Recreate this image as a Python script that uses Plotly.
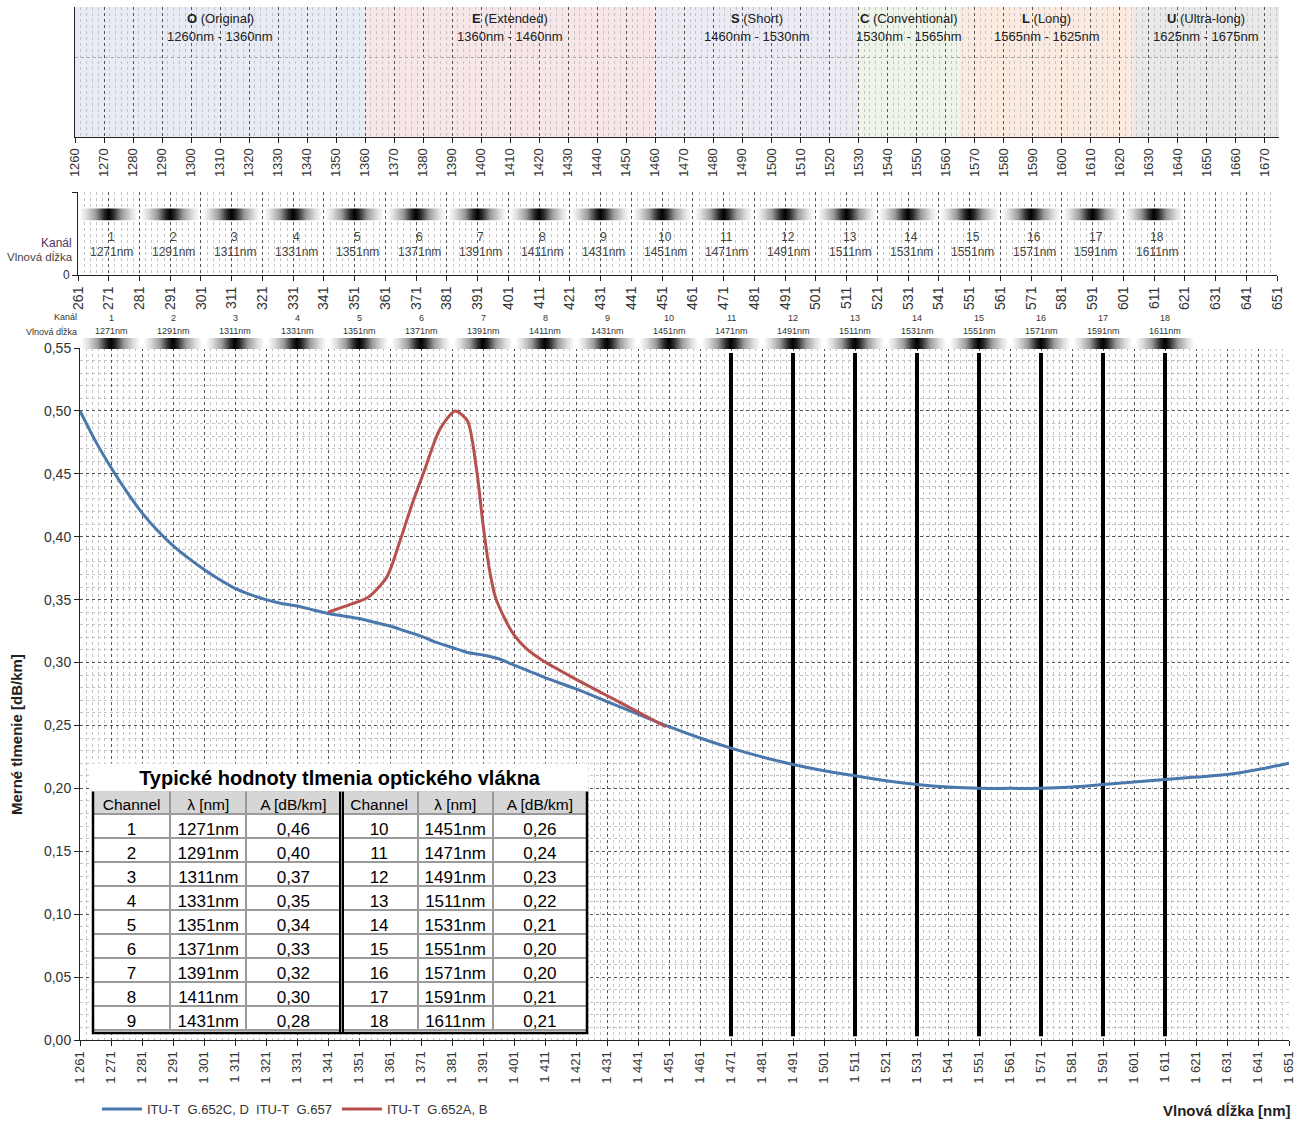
import plotly.graph_objects as go

W, H = 1295, 1121
FW, FH = W, H

# ---------------- data ----------------
band_letters = ["O", "E", "S", "C", "L", "U"]
band_names = ["Original", "Extended", "Short", "Conventional", "Long", "Ultra-long"]
band_start = [1260, 1360, 1460, 1530, 1565, 1625]
band_end = [1360, 1460, 1530, 1565, 1625, 1675]
band_colors = ["#e6ebf4", "#f6e6e7", "#ecebf4", "#eef4e8", "#fbeadf", "#e9e9e9"]

channel_no = [1, 2, 3, 4, 5, 6, 7, 8, 9, 10, 11, 12, 13, 14, 15, 16, 17, 18]
channel_wl = [1271, 1291, 1311, 1331, 1351, 1371, 1391, 1411, 1431,
              1451, 1471, 1491, 1511, 1531, 1551, 1571, 1591, 1611]
channel_att = [0.46, 0.40, 0.37, 0.35, 0.34, 0.33, 0.32, 0.30, 0.28,
               0.26, 0.24, 0.23, 0.22, 0.21, 0.20, 0.20, 0.21, 0.21]
marked_channels = [11, 12, 13, 14, 15, 16, 17, 18]

blue_wl = [1261, 1266, 1271, 1276, 1281, 1286, 1291, 1296, 1301, 1306, 1311, 1316, 1321, 1326,
           1331, 1336, 1341, 1346, 1351, 1356, 1361, 1366, 1371, 1376, 1381, 1386, 1391, 1396,
           1401, 1406, 1411, 1421, 1431, 1441, 1451, 1461, 1471, 1481, 1491, 1501, 1511, 1521,
           1531, 1541, 1551, 1561, 1571, 1581, 1591, 1601, 1611, 1621, 1631, 1641, 1651]
blue_att = [0.500, 0.476, 0.455, 0.436, 0.419, 0.405, 0.393, 0.383, 0.374, 0.366, 0.359, 0.354,
            0.350, 0.347, 0.345, 0.342, 0.339, 0.337, 0.335, 0.332, 0.329, 0.325, 0.321, 0.316,
            0.312, 0.308, 0.306, 0.303, 0.298, 0.293, 0.288, 0.279, 0.269, 0.259, 0.249, 0.240,
            0.232, 0.225, 0.219, 0.214, 0.210, 0.206, 0.203, 0.201, 0.200, 0.200, 0.200, 0.201,
            0.203, 0.205, 0.207, 0.209, 0.211, 0.215, 0.220]

red_wl = [1341, 1348, 1354, 1360, 1364, 1368, 1372, 1377, 1382, 1386, 1389, 1391,
          1393, 1395, 1398, 1401, 1405, 1410, 1420, 1430, 1440, 1450]
red_att = [0.340, 0.346, 0.352, 0.368, 0.395, 0.425, 0.452, 0.485, 0.500, 0.492, 0.452, 0.410,
           0.375, 0.352, 0.335, 0.322, 0.311, 0.302, 0.288, 0.275, 0.262, 0.249]

table_header = ["Channel", "λ [nm]", "A [dB/km]"]
series_names = ["ITU-T\u00a0 G.652C, D\u00a0 ITU-T\u00a0 G.657", "ITU-T\u00a0 G.652A, B"]
series_colors = ["#4a78ad", "#b5504f"]

# ---------------- helpers ----------------
def px_x(p):
    return p / FW

def px_y(p):
    return 1 - p / FH

FONT = "Arial, Liberation Sans, sans-serif"
blob_scale = [[0, "#ffffff"], [0.12, "#dcdcdc"], [0.28, "#9a9a9a"], [0.42, "#2a2a2a"], [0.5, "#000000"],
              [0.58, "#2a2a2a"], [0.72, "#9a9a9a"], [0.88, "#dcdcdc"], [1, "#ffffff"]]

fig = go.Figure()

def add_blobs(xa, ya, y0, y1):
    for wl in channel_wl:
        fig.add_trace(go.Scatter(
            x=[wl - 9.5, wl + 9.5, wl + 9.5, wl - 9.5, wl - 9.5],
            y=[y0, y0, y1, y1, y0], mode="lines", line=dict(width=0),
            fill="toself", fillgradient=dict(type="horizontal", colorscale=blob_scale),
            xaxis=xa, yaxis=ya, showlegend=False, hoverinfo="skip"))

add_blobs("x2", "y2", 0.66, 0.80)
add_blobs("x4", "y4", 0.0, 1.0)

# thick channel lines in main chart
lx, ly = [], []
for n, wl in zip(channel_no, channel_wl):
    if n in marked_channels:
        lx += [wl, wl, None]
        ly += [0.003, 0.546, None]
fig.add_trace(go.Scatter(x=lx, y=ly, mode="lines", line=dict(color="black", width=4),
                         xaxis="x3", yaxis="y3", showlegend=False, hoverinfo="skip"))

fig.add_trace(go.Scatter(x=blue_wl, y=blue_att, mode="lines", name=series_names[0],
                         line=dict(color=series_colors[0], width=3, shape="spline", smoothing=0.7),
                         xaxis="x3", yaxis="y3"))
fig.add_trace(go.Scatter(x=red_wl, y=red_att, mode="lines", name=series_names[1],
                         line=dict(color=series_colors[1], width=3, shape="spline", smoothing=0.7),
                         xaxis="x3", yaxis="y3"))

# table
def fmt(a):
    return f"{a:.2f}".replace(".", ",")

half = 9
tbl_x0, tbl_x1, tbl_top, tbl_bot = 93, 587, 790, 1033
fig.add_trace(go.Table(
    domain=dict(x=[px_x(tbl_x0), px_x(tbl_x1)], y=[px_y(tbl_bot), px_y(tbl_top)]),
    columnwidth=[77, 76, 94, 77, 75, 94],
    header=dict(values=table_header * 2, fill_color="#d6d6d6", height=24,
                line=dict(color="#9a9a9a", width=2), align="center",
                font=dict(family=FONT, size=15.5, color="black")),
    cells=dict(values=[channel_no[:half], [f"{w}nm" for w in channel_wl[:half]],
                       [fmt(a) for a in channel_att[:half]],
                       channel_no[half:], [f"{w}nm" for w in channel_wl[half:]],
                       [fmt(a) for a in channel_att[half:]]],
               fill_color="white", height=24, align="center",
               line=dict(color="#9a9a9a", width=2),
               font=dict(family=FONT, size=17, color="black"))))

# ---------------- shapes ----------------
shapes = []
for s, e, c in zip(band_start, band_end, band_colors):
    shapes.append(dict(type="rect", xref="x", yref="y domain", x0=s, x1=e, y0=0, y1=1,
                       fillcolor=c, line=dict(width=0), layer="below"))
shapes.append(dict(type="rect", xref="paper", yref="paper", x0=px_x(tbl_x0), x1=px_x(tbl_x1),
                   y0=px_y(tbl_bot), y1=px_y(tbl_top), line=dict(color="black", width=2.5)))
for xm in (340, 343):
    shapes.append(dict(type="line", xref="paper", yref="paper", x0=px_x(xm), x1=px_x(xm),
                       y0=px_y(tbl_bot), y1=px_y(tbl_top), line=dict(color="black", width=2)))

# ---------------- annotations ----------------
def txt(text, x, y, size, color="#333", xref="paper", xanchor="center", **kw):
    return dict(text=text, x=x, y=y, xref=xref, yref="paper", xanchor=xanchor, yanchor="middle",
                showarrow=False, font=dict(size=size, color=color), **kw)

ann = []
for L, nm, s, e in zip(band_letters, band_names, band_start, band_end):
    ann.append(txt(f"<b>{L}</b> ({nm})", (s + e) / 2, px_y(18), 13, "#222", xref="x"))
    ann.append(txt(f"{s}nm - {e}nm", (s + e) / 2, px_y(37), 13, "#222", xref="x"))
for n, wl in zip(channel_no, channel_wl):
    ann.append(txt(str(n), wl + 1, px_y(237), 12, "#444", xref="x2"))
    ann.append(txt(f"{wl}nm", wl + 1, px_y(252), 12, "#444", xref="x2"))
    ann.append(txt(str(n), wl, px_y(318), 9, "#333", xref="x3"))
    ann.append(txt(f"{wl}nm", wl, px_y(331), 9, "#333", xref="x3"))
ann += [
    txt("Kanál", px_x(74), px_y(243), 12, "#553366", xanchor="right"),
    txt("Vlnová dĺžka", px_x(75), px_y(257), 11.5, "#444", xanchor="right"),
    txt("Kanál", px_x(79), px_y(317), 9, "#333", xanchor="right"),
    txt("Vlnová dĺžka", px_x(79), px_y(331), 9, "#333", xanchor="right"),
    txt("<b>Merné tlmenie [dB/km]</b>", px_x(16), px_y(735), 15, "#222", textangle=-90),
    txt("<b>Vlnová dĺžka [nm]</b>", px_x(1293), px_y(1110), 15, "#222", xanchor="right"),
    txt("<b>Typické hodnoty tlmenia optického vlákna</b>", px_x((tbl_x0 + tbl_x1) / 2), px_y(777),
        20, "black", width=tbl_x1 - tbl_x0, height=25, bgcolor="white"),
]

major_grid = dict(showgrid=True, gridcolor="#555", griddash="dot", gridwidth=1)
minor_x = dict(dtick=2, showgrid=True, gridcolor="#c4c4c4", griddash="dot", gridwidth=1)
axis_line = dict(showline=True, linecolor="#222", linewidth=1, zeroline=False, automargin=False)

p2_ticks = list(range(1261, 1652, 10))

fig.update_layout(
    template="none",
    width=FW, height=FH, margin=dict(l=0, r=0, t=0, b=0, autoexpand=False),
    paper_bgcolor="white", plot_bgcolor="white", separators=", ",
    font=dict(family=FONT, size=12, color="#333"),
    shapes=shapes, annotations=ann,
    legend=dict(orientation="h", x=px_x(97), y=px_y(1109), xanchor="left", yanchor="middle",
                font=dict(size=13, color="#333"), bgcolor="rgba(0,0,0,0)", itemwidth=40),
    xaxis=dict(domain=[px_x(75), px_x(1279)], range=[1260, 1675], anchor="y", tick0=1260, dtick=10,
               tickformat="d", tickangle=-90, ticks="outside", ticklen=5, tickcolor="#222",
               tickfont=dict(size=13, color="#333"), minor=dict(tick0=1260, **minor_x),
               ticklabeloverflow="allow", **major_grid, **axis_line),
    yaxis=dict(domain=[px_y(137), px_y(7)], range=[0, 1.625], anchor="x", dtick=1,
               showticklabels=False, showgrid=True, gridcolor="#aaa", griddash="dot", **axis_line),
    xaxis2=dict(domain=[px_x(78), px_x(1277)], range=[1261, 1651], anchor="y2",
                tickvals=p2_ticks, ticktext=[str(v % 1000) for v in p2_ticks],
                tickangle=-90, ticks="outside", ticklen=5, tickcolor="#222",
                tickfont=dict(size=14, color="#333"), minor=dict(tick0=1261, **minor_x),
                ticklabeloverflow="allow", **major_grid, **axis_line),
    yaxis2=dict(domain=[px_y(275), px_y(192)], range=[0, 1], anchor="x2", tickvals=[0, 1],
                ticktext=["0", ""], ticks="outside", ticklen=5, tickcolor="#222",
                tickfont=dict(size=12, color="#333"), showgrid=True, gridcolor="#bbb",
                griddash="dot", **axis_line),
    xaxis3=dict(domain=[px_x(80), px_x(1289)], range=[1261, 1651], anchor="y3", tick0=1261, dtick=10,
                tickformat=",d", tickangle=-90, ticks="outside", ticklen=5, tickcolor="#222",
                tickfont=dict(size=13, color="#333"), minor=dict(tick0=1261, **minor_x),
                ticklabeloverflow="allow", **major_grid, **axis_line),
    yaxis3=dict(domain=[px_y(1040), px_y(348)], range=[0, 0.55], anchor="x3", dtick=0.05,
                tickformat=".2f", ticks="outside", ticklen=5, tickcolor="#222",
                tickfont=dict(size=14, color="#333"),
                minor=dict(dtick=0.01, showgrid=True, gridcolor="#c4c4c4", griddash="dot"),
                **major_grid, **axis_line),
    xaxis4=dict(domain=[px_x(80), px_x(1289)], range=[1261, 1651], anchor="y4", visible=False),
    yaxis4=dict(domain=[px_y(349), px_y(338)], range=[0, 1], anchor="x4", visible=False),
)

fig.write_html(
    "out.html",
    config={"displayModeBar": False},
    post_script="document.body.style.margin='0';document.documentElement.style.overflow='hidden';",
)
